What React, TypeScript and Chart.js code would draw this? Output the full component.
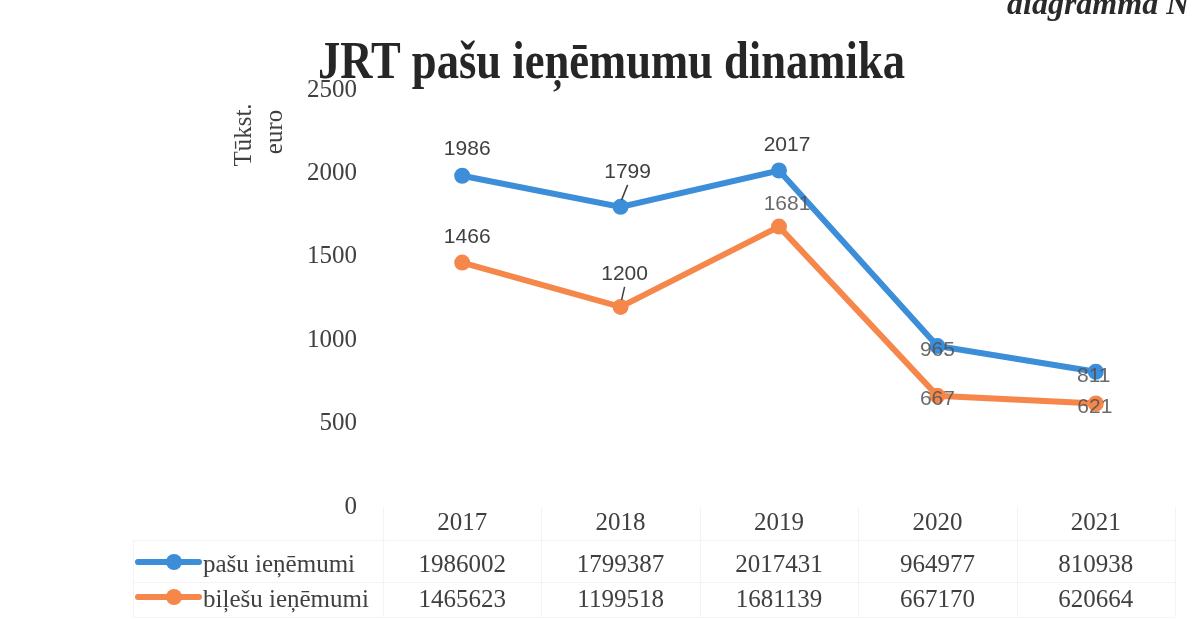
import React, { useEffect, useRef } from 'react';
import { Chart, registerables } from 'chart.js';

Chart.register(...registerables);

// ---- data ----
const categories = ['2017', '2018', '2019', '2020', '2021'];
const seriesNames = ['pašu ieņēmumi', 'biļešu ieņēmumi'];
const pasuEuro = [1986002, 1799387, 2017431, 964977, 810938];
const biletuEuro = [1465623, 1199518, 1681139, 667170, 620664];
const yTickValues = [0, 500, 1000, 1500, 2000, 2500];

const titleText = 'JRT pašu ieņēmumu dinamika';
const cornerText = 'diagramma N';
const yTitleLines = ['Tūkst.', 'euro'];

// ---- style ----
const BLUE = '#3d8ed8';
const ORANGE = '#f5874b';
const TEXT = '#404040';
const SERIF = '"Liberation Serif", "DejaVu Serif", serif';
const SANS = '"Liberation Sans", Arial, sans-serif';

// label placement relative to the point: [dx, dy, gray?, leader?]
const pasuLabelPos: [number, number, boolean, boolean][] = [
  [5, -27, false, false],
  [7, -35, false, true],
  [8, -25, false, false],
  [0, 4, true, false],
  [-2, 4, true, false],
];
const biletuLabelPos: [number, number, boolean, boolean][] = [
  [5, -25, false, false],
  [4, -33, false, true],
  [8, -22, true, false],
  [0, 3, true, false],
  [-1, 4, true, false],
];

const extrasPlugin = {
  id: 'extras',
  afterDatasetsDraw(chart: any) {
    const ctx = chart.ctx as CanvasRenderingContext2D;
    const labelSets = [
      { values: pasuEuro, pos: pasuLabelPos },
      { values: biletuEuro, pos: biletuLabelPos },
    ];
    ctx.save();
    ctx.font = `21px ${SANS}`;
    ctx.textAlign = 'center';
    ctx.textBaseline = 'middle';
    labelSets.forEach((set, di) => {
      const meta = chart.getDatasetMeta(di);
      meta.data.forEach((pt: any, i: number) => {
        const [dx, dy, gray, leader] = set.pos[i];
        const lx = pt.x + dx;
        const ly = pt.y + dy;
        if (leader) {
          ctx.strokeStyle = TEXT;
          ctx.lineWidth = 1.5;
          ctx.beginPath();
          ctx.moveTo(lx, ly + 13);
          ctx.lineTo(pt.x + 1, pt.y - 7);
          ctx.stroke();
        }
        ctx.fillStyle = gray ? 'rgba(80,80,80,0.85)' : TEXT;
        ctx.fillText(String(Math.round(set.values[i] / 1000)), lx, ly);
      });
    });
    ctx.restore();
  },
  afterDraw(chart: any) {
    const ctx = chart.ctx as CanvasRenderingContext2D;
    const area = chart.chartArea;
    const xs = chart.scales.x;
    ctx.save();

    // corner caption
    ctx.fillStyle = '#2a2a2a';
    ctx.font = `italic bold 32px ${SERIF}`;
    ctx.textAlign = 'left';
    ctx.textBaseline = 'alphabetic';
    ctx.fillText(cornerText, 1007, 14);

    // title (condensed)
    ctx.font = `bold 52px ${SERIF}`;
    ctx.fillStyle = '#262626';
    const tw = ctx.measureText(titleText).width;
    const targetW = 587;
    ctx.save();
    ctx.translate(611.5, 78);
    ctx.scale(targetW / tw, 1);
    ctx.textAlign = 'center';
    ctx.fillText(titleText, 0, 0);
    ctx.restore();

    // y axis title
    ctx.save();
    ctx.font = `25px ${SERIF}`;
    ctx.fillStyle = TEXT;
    ctx.textAlign = 'center';
    ctx.textBaseline = 'middle';
    ctx.translate(244, 135);
    ctx.rotate(-Math.PI / 2);
    ctx.fillText(yTitleLines[0], 0, 0);
    ctx.fillText(yTitleLines[1], 3, 31);
    ctx.restore();

    // data table
    const band = (area.right - area.left) / categories.length;
    const headerY = 523;
    const rowY = [565, 600];
    ctx.strokeStyle = '#f4f4f4';
    ctx.lineWidth = 1;
    ctx.beginPath();
    for (let k = 0; k <= categories.length; k++) {
      const x = Math.round(area.left + k * band) + 0.5;
      ctx.moveTo(x, area.bottom);
      ctx.lineTo(x, 617);
    }
    ctx.moveTo(133.5, 540);
    ctx.lineTo(133.5, 617);
    [540.5, 582.5, 617.5].forEach((y) => {
      ctx.moveTo(133, y);
      ctx.lineTo(area.right, y);
    });
    ctx.stroke();

    ctx.font = `25px ${SERIF}`;
    ctx.fillStyle = TEXT;
    ctx.textAlign = 'center';
    ctx.textBaseline = 'middle';
    categories.forEach((c, i) => {
      const cx = xs.getPixelForValue(i);
      ctx.fillText(c, cx, headerY);
      ctx.fillText(String(pasuEuro[i]), cx, rowY[0]);
      ctx.fillText(String(biletuEuro[i]), cx, rowY[1]);
    });

    const colors = [BLUE, ORANGE];
    seriesNames.forEach((name, r) => {
      const y = rowY[r] - 3;
      ctx.strokeStyle = colors[r];
      ctx.lineWidth = 6;
      ctx.lineCap = 'round';
      ctx.beginPath();
      ctx.moveTo(138, y);
      ctx.lineTo(199, y);
      ctx.stroke();
      ctx.fillStyle = colors[r];
      ctx.beginPath();
      ctx.arc(174, y, 8, 0, Math.PI * 2);
      ctx.fill();
      ctx.fillStyle = TEXT;
      ctx.textAlign = 'left';
      ctx.fillText(name, 203, rowY[r]);
    });

    ctx.restore();
  },
};

export default function App() {
  const canvasRef = useRef<HTMLCanvasElement | null>(null);

  useEffect(() => {
    if (!canvasRef.current) return;
    const chart = new Chart(canvasRef.current, {
      type: 'line',
      data: {
        labels: categories,
        datasets: [
          {
            label: seriesNames[0],
            data: pasuEuro.map((v) => v / 1000),
            borderColor: BLUE,
            backgroundColor: BLUE,
            borderWidth: 6,
            pointRadius: 8,
            pointBorderWidth: 0,
            pointBackgroundColor: BLUE,
            tension: 0,
          },
          {
            label: seriesNames[1],
            data: biletuEuro.map((v) => v / 1000),
            borderColor: ORANGE,
            backgroundColor: ORANGE,
            borderWidth: 6,
            pointRadius: 8,
            pointBorderWidth: 0,
            pointBackgroundColor: ORANGE,
            tension: 0,
          },
        ],
      },
      options: {
        responsive: false,
        animation: false,
        layout: { padding: { top: 90, bottom: 112, left: 0, right: 17 } },
        plugins: {
          legend: { display: false },
          tooltip: { enabled: false },
          title: { display: false },
        },
        scales: {
          x: {
            type: 'category',
            display: false,
            offset: true,
          },
          y: {
            min: 0,
            max: 2500,
            afterFit: (s: any) => {
              s.width = 383;
            },
            afterBuildTicks: (s: any) => {
              s.ticks = yTickValues.map((v) => ({ value: v }));
            },
            grid: { display: false },
            border: { display: false },
            ticks: {
              padding: 18,
              color: TEXT,
              font: { family: SERIF, size: 25 },
              callback: (v: any) => String(v),
            },
          },
        },
      },
      plugins: [extrasPlugin],
    });
    return () => chart.destroy();
  }, []);

  return (
    <div style={{ position: 'absolute', left: 0, top: 0, width: 1192, height: 619, background: '#fff' }}>
      <canvas ref={canvasRef} width={1192} height={619} style={{ display: 'block' }} />
    </div>
  );
}
